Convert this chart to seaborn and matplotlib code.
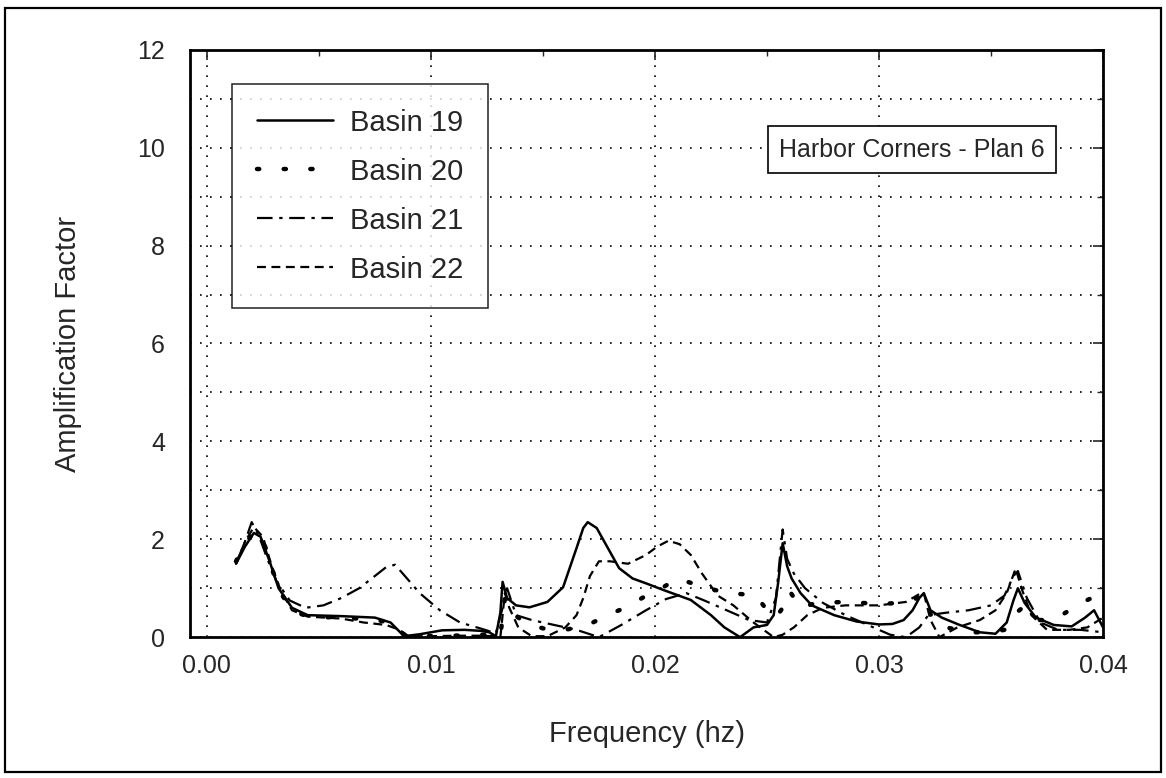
import numpy as np
import pandas as pd
import matplotlib
matplotlib.use("Agg")
import matplotlib.pyplot as plt
from matplotlib.patches import Rectangle
from matplotlib.ticker import MultipleLocator
import seaborn as sns

# Basin 19 (solid)
f19 = [0.0013, 0.0017, 0.0021, 0.0024, 0.0028, 0.0032, 0.0038, 0.0045, 0.0060, 0.0075,
       0.0082, 0.0088, 0.0095, 0.0105, 0.0115, 0.0122, 0.0126, 0.0129, 0.0131, 0.0132,
       0.0134, 0.0138, 0.0144, 0.0152, 0.0159, 0.0165, 0.0168, 0.0170, 0.0174, 0.0179,
       0.0184, 0.0190, 0.0196, 0.0204, 0.0216, 0.0225, 0.0231, 0.0238, 0.0244, 0.0250,
       0.0253, 0.0255, 0.0257, 0.0259, 0.0261, 0.0265, 0.0270, 0.0280, 0.0290, 0.0300,
       0.0306, 0.0311, 0.0315, 0.0318, 0.0320, 0.0323, 0.0328, 0.0336, 0.0345, 0.0352,
       0.0357, 0.0360, 0.0362, 0.0365, 0.0370, 0.0378, 0.0386, 0.0392, 0.0396, 0.0400]
a19 = [1.50, 1.85, 2.13, 2.05, 1.55, 1.00, 0.60, 0.45, 0.43, 0.40,
       0.30, 0.02, 0.06, 0.14, 0.15, 0.13, 0.10, 0.02, 0.50, 1.13,
       0.80, 0.65, 0.61, 0.72, 1.02, 1.82, 2.23, 2.35, 2.23, 1.82,
       1.41, 1.20, 1.10, 0.96, 0.76, 0.45, 0.20, 0.00, 0.20, 0.25,
       0.45, 1.12, 1.92, 1.45, 1.20, 0.90, 0.65, 0.45, 0.32, 0.26,
       0.27, 0.35, 0.55, 0.80, 0.90, 0.55, 0.40, 0.25, 0.10, 0.07,
       0.30, 0.75, 1.00, 0.70, 0.40, 0.25, 0.22, 0.40, 0.55, 0.20]

# Basin 20 (dotted)
f20 = [0.0013, 0.0017, 0.0021, 0.0025, 0.0029, 0.0033, 0.0038, 0.0045, 0.0060, 0.0075,
       0.0083, 0.0088, 0.0095, 0.0110, 0.0122, 0.0128, 0.0131, 0.0133, 0.0136, 0.0142,
       0.0150, 0.0160, 0.0170, 0.0180, 0.0188, 0.0195, 0.0203, 0.0210, 0.0220, 0.0232,
       0.0245, 0.0250, 0.0254, 0.0257, 0.0260, 0.0265, 0.0272, 0.0285, 0.0300, 0.0310,
       0.0316, 0.0320, 0.0324, 0.0330, 0.0340, 0.0350, 0.0356, 0.0360, 0.0364, 0.0370,
       0.0378, 0.0385, 0.0390, 0.0395, 0.0400]
a20 = [1.55, 1.90, 2.15, 2.00, 1.40, 0.90, 0.55, 0.42, 0.40, 0.36,
       0.28, 0.05, 0.02, 0.03, 0.05, 0.04, 0.02, 0.80, 0.50, 0.30,
       0.18, 0.15, 0.25, 0.47, 0.63, 0.82, 1.00, 1.20, 1.05, 0.90,
       0.86, 0.55, 0.40, 0.60, 0.95, 0.60, 0.70, 0.72, 0.68, 0.70,
       0.78, 0.85, 0.35, 0.20, 0.10, 0.10, 0.15, 0.45, 0.60, 0.35,
       0.35, 0.55, 0.70, 0.80, 0.60]

# Basin 21 (dash-dot)
f21 = [0.0013, 0.0017, 0.0020, 0.0023, 0.0027, 0.0031, 0.0037, 0.0044, 0.0052, 0.0060,
       0.0068, 0.0075, 0.0080, 0.0084, 0.0088, 0.0095, 0.0104, 0.0113, 0.0122, 0.0129,
       0.0132, 0.0134, 0.0138, 0.0145, 0.0155, 0.0165, 0.0175, 0.0185, 0.0196, 0.0205,
       0.0214, 0.0222, 0.0232, 0.0242, 0.0250, 0.0254, 0.0257, 0.0259, 0.0262, 0.0267,
       0.0275, 0.0285, 0.0295, 0.0305, 0.0312, 0.0318, 0.0322, 0.0330, 0.0340, 0.0350,
       0.0356, 0.0360, 0.0362, 0.0366, 0.0372, 0.0380, 0.0390, 0.0400]
a21 = [1.50, 1.95, 2.35, 2.10, 1.60, 1.15, 0.75, 0.60, 0.65, 0.80,
       1.00, 1.25, 1.43, 1.48, 1.27, 0.90, 0.55, 0.30, 0.18, 0.08,
       0.60, 1.00, 0.45, 0.35, 0.25, 0.15, 0.00, 0.25, 0.55, 0.78,
       0.90, 0.75, 0.55, 0.35, 0.30, 0.80, 2.20, 1.60, 1.30, 1.00,
       0.70, 0.45, 0.25, 0.05, 0.00, 0.20, 0.45, 0.50, 0.55, 0.65,
       0.85, 1.25, 1.35, 0.80, 0.30, 0.15, 0.15, 0.10]

# Basin 22 (dashed)
f22 = [0.0013, 0.0017, 0.0021, 0.0025, 0.0029, 0.0033, 0.0038, 0.0045, 0.0060, 0.0070,
       0.0080, 0.0086, 0.0090, 0.0100, 0.0112, 0.0122, 0.0128, 0.0131, 0.0133, 0.0135,
       0.0139, 0.0145, 0.0152, 0.0160, 0.0165, 0.0168, 0.0171, 0.0175, 0.0180, 0.0188,
       0.0196, 0.0201, 0.0206, 0.0211, 0.0216, 0.0221, 0.0228, 0.0235, 0.0244, 0.0250,
       0.0253, 0.0257, 0.0262, 0.0268, 0.0275, 0.0285, 0.0300, 0.0312, 0.0318, 0.0320,
       0.0323, 0.0327, 0.0335, 0.0345, 0.0352, 0.0357, 0.0361, 0.0364, 0.0368, 0.0375,
       0.0385, 0.0393, 0.0400]
a22 = [1.50, 1.95, 2.25, 2.05, 1.45, 0.95, 0.55, 0.42, 0.38, 0.30,
       0.25, 0.15, 0.02, 0.02, 0.03, 0.03, 0.02, 0.00, 0.90, 0.60,
       0.20, 0.02, 0.02, 0.20, 0.45, 0.80, 1.25, 1.55, 1.55, 1.50,
       1.68, 1.85, 1.97, 1.90, 1.68, 1.30, 0.85, 0.65, 0.30, 0.10,
       0.00, 0.05, 0.20, 0.45, 0.60, 0.65, 0.65, 0.72, 0.88, 0.90,
       0.35, 0.00, 0.20, 0.35, 0.55, 0.90, 1.40, 0.95, 0.45, 0.15,
       0.15, 0.20, 0.40]

labels = ["Basin 19", "Basin 20", "Basin 21", "Basin 22"]
series = [(f19, a19), (f20, a20), (f21, a21), (f22, a22)]
x_ticks = [0.00, 0.01, 0.02, 0.03, 0.04]
y_ticks = [0, 2, 4, 6, 8, 10, 12]

sns.set_style("white")
plt.rcParams['font.family'] = ['Liberation Sans', 'DejaVu Sans']

fig = plt.figure(figsize=(11.66, 7.78), dpi=100)
ax = fig.add_axes([0.163, 0.181, 0.783, 0.755])

styles = [
    dict(linestyle='-', linewidth=1.8),
    dict(linestyle=(0, (0.5, 5.5)), linewidth=3.2, dash_capstyle='round'),
    dict(linestyle=(0, (7, 3, 1.5, 3)), linewidth=1.6),
    dict(linestyle=(0, (4, 2.5)), linewidth=1.6),
]

for (f, a), lab, st in zip(series, labels, styles):
    sns.lineplot(x=f, y=a, ax=ax, color='black', label=lab, sort=False, **st)

ax.set_xlim(-0.00075, 0.0400)
ax.set_ylim(0, 12)
ax.set_xticks(x_ticks)
ax.set_xticklabels([f"{v:.2f}" for v in x_ticks])
ax.set_yticks(y_ticks)
ax.xaxis.set_minor_locator(MultipleLocator(0.005))
ax.yaxis.set_minor_locator(MultipleLocator(1))

ax.grid(True, which='major', color='black', linestyle=(0, (1, 5)), linewidth=1.2)
ax.grid(True, which='minor', axis='y', color='black', linestyle=(0, (1, 5)), linewidth=1.2)

ax.tick_params(which='major', direction='in', length=7, width=1.2, labelsize=18,
               top=True, right=True, pad=18)
ax.tick_params(which='minor', direction='in', length=4, width=1,
               top=True, right=True)
ax.tick_params(axis='x', pad=12)
for s in ax.spines.values():
    s.set_linewidth(2)
    s.set_color('black')

ax.set_xlabel('Frequency (hz)', fontsize=21)
ax.set_ylabel('Amplification Factor', fontsize=21)
ax.xaxis.set_label_coords(0.5, -0.141)
ax.yaxis.set_label_coords(-0.118, 0.5)

leg = ax.legend(loc='upper left', bbox_to_anchor=(0.046, 0.942), borderaxespad=0,
                fontsize=21, frameon=True, fancybox=False, handlelength=2.6,
                handletextpad=0.6, labelspacing=0.72, borderpad=0.85)
leg.get_frame().set_edgecolor('black')
leg.get_frame().set_linewidth(1.2)

ax.text(0.791, 0.830, 'Harbor Corners - Plan 6', transform=ax.transAxes,
        ha='center', va='center', fontsize=18,
        bbox=dict(boxstyle='square,pad=0.45', fc='white', ec='black', lw=1.2))

fig.patches.append(Rectangle((0.0043, 0.0077), 0.991, 0.982, transform=fig.transFigure,
                             fill=False, edgecolor='black', linewidth=1.6))

fig.savefig('out.png', dpi=100, facecolor='white')
